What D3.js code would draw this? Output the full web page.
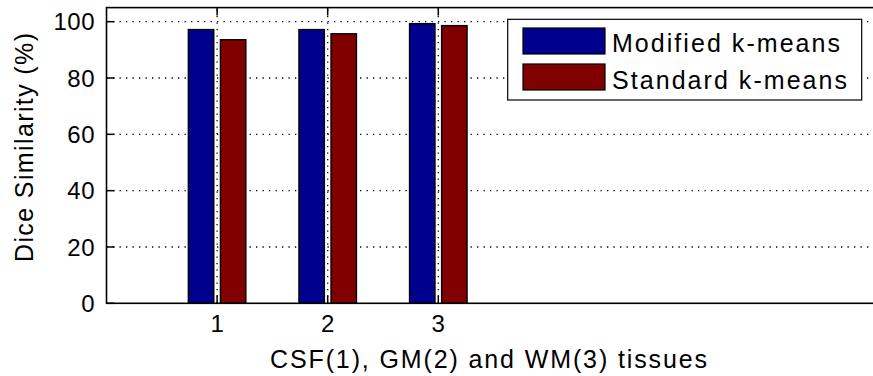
<!DOCTYPE html>
<html>
<head>
<meta charset="utf-8">
<script src="https://cdn.jsdelivr.net/npm/d3@7"></script>
<style>
  body { margin: 0; background: #fff; }
  text { font-family: "Liberation Sans", Arial, sans-serif; fill: #000; }
</style>
</head>
<body>
<div id="chart"></div>
<script>
// datos
var grupos = [1, 2, 3];
var modificado = [97.2, 97.2, 99.3];
var estandar = [93.6, 95.7, 98.6];
var series = ["Modified k-means", "Standard k-means"];
var colores = ["#00008f", "#800000"];
var yTicks = [0, 20, 40, 60, 80, 100];

var width = 873, height = 376;

var svg = d3.select("#chart").append("svg")
    .attr("width", width)
    .attr("height", height);

// escalas
var x = d3.scaleLinear().domain([0, 7]).range([106.5, 106.5 + 7 * 110.6]);
var y = d3.scaleLinear().domain([0, 105]).range([303.3, 7.6]);

var x0 = x.range()[0], x1 = x.range()[1];
var y0 = y.range()[0], y1 = y.range()[1];

// rejilla horizontal punteada
svg.selectAll("line.gridH").data(yTicks.filter(d => d > 0)).enter()
    .append("line")
    .attr("class", "gridH")
    .attr("x1", x0).attr("x2", x1)
    .attr("y1", d => y(d)).attr("y2", d => y(d))
    .attr("stroke", "#000")
    .attr("stroke-width", 1.3)
    .attr("stroke-dasharray", "1.3,5.2");

// rejilla vertical punteada
svg.selectAll("line.gridV").data(grupos).enter()
    .append("line")
    .attr("class", "gridV")
    .attr("x1", d => x(d)).attr("x2", d => x(d))
    .attr("y1", y0).attr("y2", y1)
    .attr("stroke", "#000")
    .attr("stroke-width", 1.3)
    .attr("stroke-dasharray", "1.3,5.2");

// barras
var offset = 0.145, anchoBarra = 0.23;
var datos = [modificado, estandar];
datos.forEach(function(valores, s) {
    svg.selectAll("rect.serie" + s).data(valores).enter()
        .append("rect")
        .attr("class", "serie" + s)
        .attr("x", (d, i) => x(grupos[i] + (s === 0 ? -offset : offset) - anchoBarra / 2))
        .attr("width", x(anchoBarra) - x(0))
        .attr("y", d => y(d))
        .attr("height", d => y(0) - y(d))
        .attr("fill", colores[s])
        .attr("stroke", "#000")
        .attr("stroke-width", 1.4);
});

// ejes (marcas hacia dentro, estilo matlab)
var tickLen = 8;
var ejes = svg.append("g");
ejes.selectAll("line.tx").data(grupos).enter().append("line")
    .attr("x1", d => x(d)).attr("x2", d => x(d))
    .attr("y1", y0).attr("y2", y0 - tickLen)
    .attr("stroke", "#000").attr("stroke-width", 1.5);
ejes.selectAll("line.txt").data(grupos).enter().append("line")
    .attr("x1", d => x(d)).attr("x2", d => x(d))
    .attr("y1", y1).attr("y2", y1 + tickLen)
    .attr("stroke", "#000").attr("stroke-width", 1.5);
ejes.selectAll("line.ty").data(yTicks).enter().append("line")
    .attr("x1", x0).attr("x2", x0 + tickLen)
    .attr("y1", d => y(d)).attr("y2", d => y(d))
    .attr("stroke", "#000").attr("stroke-width", 1.5);

// caja
ejes.append("rect")
    .attr("x", x0).attr("y", y1)
    .attr("width", x1 - x0).attr("height", y0 - y1)
    .attr("fill", "none")
    .attr("stroke", "#000")
    .attr("stroke-width", 1.6);

// etiquetas de ticks
svg.selectAll("text.yt").data(yTicks).enter().append("text")
    .attr("class", "yt")
    .attr("x", 95)
    .attr("y", d => y(d))
    .attr("dy", "0.36em")
    .attr("text-anchor", "end")
    .style("font-size", "24px")
    .style("letter-spacing", "0.5px")
    .text(d => d);

svg.selectAll("text.xt").data(grupos).enter().append("text")
    .attr("class", "xt")
    .attr("x", d => x(d))
    .attr("y", 332)
    .attr("text-anchor", "middle")
    .style("font-size", "24px")
    .text(d => d);

// titulos de ejes
svg.append("text")
    .attr("x", 270)
    .attr("y", 368)
    .attr("textLength", 437)
    .attr("lengthAdjust", "spacing")
    .style("font-size", "25px")
    .text("CSF(1), GM(2) and WM(3) tissues");

svg.append("text")
    .attr("transform", "translate(33,262) rotate(-90)")
    .attr("textLength", 229)
    .attr("lengthAdjust", "spacing")
    .style("font-size", "25px")
    .text("Dice Similarity (%)");

// leyenda
var leyenda = svg.append("g");
leyenda.append("rect")
    .attr("x", 507.7).attr("y", 19.3)
    .attr("width", 354).attr("height", 80.7)
    .attr("fill", "#fff")
    .attr("stroke", "#000")
    .attr("stroke-width", 1.2);

var textLens = [228, 235];
series.forEach(function(nombre, i) {
    leyenda.append("rect")
        .attr("x", 523).attr("y", 28 + i * 36)
        .attr("width", 82).attr("height", 26)
        .attr("fill", colores[i])
        .attr("stroke", "#000")
        .attr("stroke-width", 1.2);
    leyenda.append("text")
        .attr("x", 612).attr("y", 52 + i * 37)
        .attr("textLength", textLens[i])
        .attr("lengthAdjust", "spacing")
        .style("font-size", "25px")
        .text(nombre);
});
</script>
</body>
</html>
